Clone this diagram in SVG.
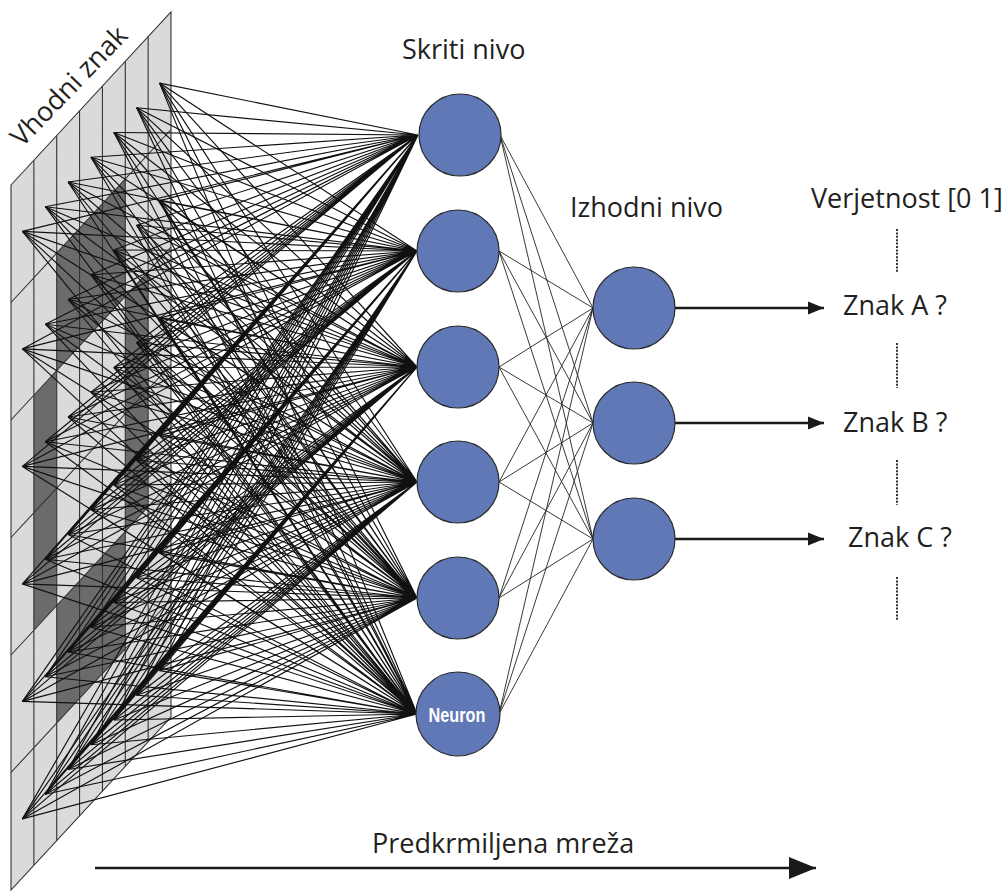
<svg xmlns="http://www.w3.org/2000/svg" width="1006" height="891" viewBox="0 0 1006 891">
  <style>
    .lbl { font-family: "Open Sans", "Liberation Sans", sans-serif; font-size: 27px; fill: #231f20; }
    .grid { stroke: #333; stroke-width: 1.1; fill: none; }
    .w1 { stroke: #111; stroke-width: 1.15; fill: none; }
    .w2 { stroke: #222; stroke-width: 0.9; fill: none; }
    .neuron { fill: #6079b6; stroke: #2a2a2a; stroke-width: 1.2; }
    .arrow { stroke: #1a1a1a; stroke-width: 2.6; fill: none; }
    .dots { stroke: #333; stroke-width: 2; stroke-dasharray: 2 1.4; fill: none; }
  </style>
  <defs>
    <marker id="headS" markerUnits="userSpaceOnUse" markerWidth="18" markerHeight="14" refX="16" refY="7" orient="auto">
      <polygon points="0,0.5 16,7 0,13.5" fill="#1a1a1a"/>
    </marker>
    <marker id="headL" markerUnits="userSpaceOnUse" markerWidth="28" markerHeight="24" refX="27" refY="12" orient="auto">
      <polygon points="0,1 27,12 0,23" fill="#1a1a1a"/>
    </marker>
  </defs>
  <rect width="1006" height="891" fill="#fff"/>

  <!-- input plate: 7 x 6 pixel grid seen in perspective -->
  <g id="input-grid">
    <polygon points="11,185 171,12 171,717 11,890" fill="#dadada"/>
    <g fill="#6b6b6b">
      <polygon points="56.71,253.07 125.29,178.93 125.29,296.43 56.71,370.57"/>
      <polygon points="56.71,605.57 125.29,531.43 125.29,648.93 56.71,723.07"/>
      <polygon points="33.86,395.29 56.71,370.57 56.71,605.57 33.86,630.29"/>
      <polygon points="125.29,296.43 148.14,271.71 148.14,506.71 125.29,531.43"/>
    </g>
    <path class="grid" d="M33.86 160.29V865.29M56.71 135.57V840.57M79.57 110.86V815.86M102.43 86.14V791.14M125.29 61.43V766.43M148.14 36.71V741.71M11 302.5L171 129.5M11 420L171 247M11 537.5L171 364.5M11 655L171 482M11 772.5L171 599.5"/>
    <polygon class="grid" points="11,185 171,12 171,717 11,890"/>
  </g>

  <!-- weighted connections -->
  <g id="connectors">
    <path class="w1" d="M22.4 231.4L418 135M45.3 206.7L418 135M68.1 182L418 135M91 157.3L418 135M113.9 132.5L418 135M136.7 107.8L418 135M159.6 83.1L418 135M22.4 348.9L418 135M45.3 324.2L418 135M68.1 299.5L418 135M91 274.8L418 135M113.9 250L418 135M136.7 225.3L418 135M159.6 200.6L418 135M22.4 466.4L418 135M45.3 441.7L418 135M68.1 417L418 135M91 392.3L418 135M113.9 367.5L418 135M136.7 342.8L418 135M159.6 318.1L418 135M22.4 583.9L418 135M45.3 559.2L418 135M68.1 534.5L418 135M91 509.8L418 135M113.9 485L418 135M136.7 460.3L418 135M159.6 435.6L418 135M22.4 701.4L418 135M45.3 676.7L418 135M68.1 652L418 135M91 627.3L418 135M113.9 602.5L418 135M136.7 577.8L418 135M159.6 553.1L418 135M22.4 818.9L418 135M45.3 794.2L418 135M68.1 769.5L418 135M91 744.8L418 135M113.9 720L418 135M136.7 695.3L418 135M159.6 670.6L418 135"/>
    <path class="w1" d="M22.4 231.4L417 251M45.3 206.7L417 251M68.1 182L417 251M91 157.3L417 251M113.9 132.5L417 251M136.7 107.8L417 251M159.6 83.1L417 251M22.4 348.9L417 251M45.3 324.2L417 251M68.1 299.5L417 251M91 274.8L417 251M113.9 250L417 251M136.7 225.3L417 251M159.6 200.6L417 251M22.4 466.4L417 251M45.3 441.7L417 251M68.1 417L417 251M91 392.3L417 251M113.9 367.5L417 251M136.7 342.8L417 251M159.6 318.1L417 251M22.4 583.9L417 251M45.3 559.2L417 251M68.1 534.5L417 251M91 509.8L417 251M113.9 485L417 251M136.7 460.3L417 251M159.6 435.6L417 251M22.4 701.4L417 251M45.3 676.7L417 251M68.1 652L417 251M91 627.3L417 251M113.9 602.5L417 251M136.7 577.8L417 251M159.6 553.1L417 251M22.4 818.9L417 251M45.3 794.2L417 251M68.1 769.5L417 251M91 744.8L417 251M113.9 720L417 251M136.7 695.3L417 251M159.6 670.6L417 251"/>
    <path class="w1" d="M22.4 231.4L417 367M45.3 206.7L417 367M68.1 182L417 367M91 157.3L417 367M113.9 132.5L417 367M136.7 107.8L417 367M159.6 83.1L417 367M22.4 348.9L417 367M45.3 324.2L417 367M68.1 299.5L417 367M91 274.8L417 367M113.9 250L417 367M136.7 225.3L417 367M159.6 200.6L417 367M22.4 466.4L417 367M45.3 441.7L417 367M68.1 417L417 367M91 392.3L417 367M113.9 367.5L417 367M136.7 342.8L417 367M159.6 318.1L417 367M22.4 583.9L417 367M45.3 559.2L417 367M68.1 534.5L417 367M91 509.8L417 367M113.9 485L417 367M136.7 460.3L417 367M159.6 435.6L417 367M22.4 701.4L417 367M45.3 676.7L417 367M68.1 652L417 367M91 627.3L417 367M113.9 602.5L417 367M136.7 577.8L417 367M159.6 553.1L417 367M22.4 818.9L417 367M45.3 794.2L417 367M68.1 769.5L417 367M91 744.8L417 367M113.9 720L417 367M136.7 695.3L417 367M159.6 670.6L417 367"/>
    <path class="w1" d="M22.4 231.4L417 482M45.3 206.7L417 482M68.1 182L417 482M91 157.3L417 482M113.9 132.5L417 482M136.7 107.8L417 482M159.6 83.1L417 482M22.4 348.9L417 482M45.3 324.2L417 482M68.1 299.5L417 482M91 274.8L417 482M113.9 250L417 482M136.7 225.3L417 482M159.6 200.6L417 482M22.4 466.4L417 482M45.3 441.7L417 482M68.1 417L417 482M91 392.3L417 482M113.9 367.5L417 482M136.7 342.8L417 482M159.6 318.1L417 482M22.4 583.9L417 482M45.3 559.2L417 482M68.1 534.5L417 482M91 509.8L417 482M113.9 485L417 482M136.7 460.3L417 482M159.6 435.6L417 482M22.4 701.4L417 482M45.3 676.7L417 482M68.1 652L417 482M91 627.3L417 482M113.9 602.5L417 482M136.7 577.8L417 482M159.6 553.1L417 482M22.4 818.9L417 482M45.3 794.2L417 482M68.1 769.5L417 482M91 744.8L417 482M113.9 720L417 482M136.7 695.3L417 482M159.6 670.6L417 482"/>
    <path class="w1" d="M22.4 231.4L417 598M45.3 206.7L417 598M68.1 182L417 598M91 157.3L417 598M113.9 132.5L417 598M136.7 107.8L417 598M159.6 83.1L417 598M22.4 348.9L417 598M45.3 324.2L417 598M68.1 299.5L417 598M91 274.8L417 598M113.9 250L417 598M136.7 225.3L417 598M159.6 200.6L417 598M22.4 466.4L417 598M45.3 441.7L417 598M68.1 417L417 598M91 392.3L417 598M113.9 367.5L417 598M136.7 342.8L417 598M159.6 318.1L417 598M22.4 583.9L417 598M45.3 559.2L417 598M68.1 534.5L417 598M91 509.8L417 598M113.9 485L417 598M136.7 460.3L417 598M159.6 435.6L417 598M22.4 701.4L417 598M45.3 676.7L417 598M68.1 652L417 598M91 627.3L417 598M113.9 602.5L417 598M136.7 577.8L417 598M159.6 553.1L417 598M22.4 818.9L417 598M45.3 794.2L417 598M68.1 769.5L417 598M91 744.8L417 598M113.9 720L417 598M136.7 695.3L417 598M159.6 670.6L417 598"/>
    <path class="w1" d="M22.4 231.4L417 714M45.3 206.7L417 714M68.1 182L417 714M91 157.3L417 714M113.9 132.5L417 714M136.7 107.8L417 714M159.6 83.1L417 714M22.4 348.9L417 714M45.3 324.2L417 714M68.1 299.5L417 714M91 274.8L417 714M113.9 250L417 714M136.7 225.3L417 714M159.6 200.6L417 714M22.4 466.4L417 714M45.3 441.7L417 714M68.1 417L417 714M91 392.3L417 714M113.9 367.5L417 714M136.7 342.8L417 714M159.6 318.1L417 714M22.4 583.9L417 714M45.3 559.2L417 714M68.1 534.5L417 714M91 509.8L417 714M113.9 485L417 714M136.7 460.3L417 714M159.6 435.6L417 714M22.4 701.4L417 714M45.3 676.7L417 714M68.1 652L417 714M91 627.3L417 714M113.9 602.5L417 714M136.7 577.8L417 714M159.6 553.1L417 714M22.4 818.9L417 714M45.3 794.2L417 714M68.1 769.5L417 714M91 744.8L417 714M113.9 720L417 714M136.7 695.3L417 714M159.6 670.6L417 714"/>
    <path class="w2" d="M500 135L593 308M500 135L593 423M500 135L593 539M499 251L593 308M499 251L593 423M499 251L593 539M499 367L593 308M499 367L593 423M499 367L593 539M499 482L593 308M499 482L593 423M499 482L593 539M499 598L593 308M499 598L593 423M499 598L593 539M499 714L593 308M499 714L593 423M499 714L593 539"/>
    <path class="arrow" d="M675 308H824" marker-end="url(#headS)"/>
    <path class="arrow" d="M675 423H824" marker-end="url(#headS)"/>
    <path class="arrow" d="M675 539H824" marker-end="url(#headS)"/>
    <path class="arrow" d="M95 868H816" marker-end="url(#headL)"/>
  </g>

  <!-- hidden layer -->
  <g id="hidden-1"><circle class="neuron" cx="460" cy="135" r="41"/></g>
  <g id="hidden-2"><circle class="neuron" cx="458" cy="251" r="41"/></g>
  <g id="hidden-3"><circle class="neuron" cx="458" cy="367" r="41"/></g>
  <g id="hidden-4"><circle class="neuron" cx="458" cy="482" r="41"/></g>
  <g id="hidden-5"><circle class="neuron" cx="458" cy="598" r="41"/></g>
  <g id="hidden-6">
    <circle class="neuron" cx="458" cy="714" r="42"/>
    <text x="457" y="722" text-anchor="middle" textLength="57" lengthAdjust="spacingAndGlyphs" font-family="'Liberation Sans', Arial, sans-serif" font-weight="bold" font-size="21" fill="#fff">Neuron</text>
  </g>

  <!-- output layer -->
  <g id="output-1"><circle class="neuron" cx="634" cy="308" r="41"/></g>
  <g id="output-2"><circle class="neuron" cx="634" cy="423" r="41"/></g>
  <g id="output-3"><circle class="neuron" cx="634" cy="539" r="41"/></g>

  <!-- labels -->
  <g id="labels">
    <text class="lbl" transform="translate(22,148) rotate(-46)" font-size="30">Vhodni znak</text>
    <text class="lbl" x="402" y="59">Skriti nivo</text>
    <text class="lbl" x="570" y="217">Izhodni nivo</text>
    <text class="lbl" x="811" y="208">Verjetnost [0 1]</text>
    <text class="lbl" x="843" y="315">Znak A ?</text>
    <text class="lbl" x="843" y="432">Znak B ?</text>
    <text class="lbl" x="848" y="547">Znak C ?</text>
    <text class="lbl" x="372" y="853">Predkrmiljena mreža</text>
    <path class="dots" d="M897 229V272M897 343V388M897 460V505M897 577V620"/>
  </g>
</svg>
